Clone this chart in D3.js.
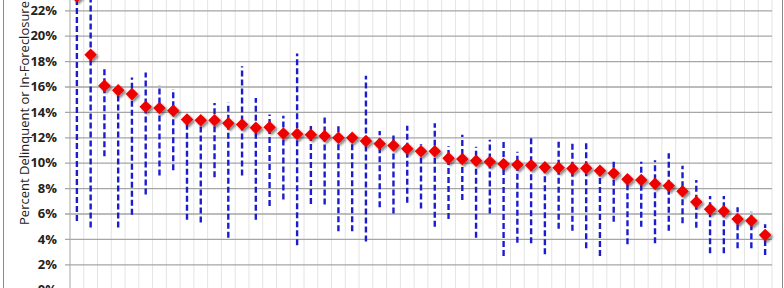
<!DOCTYPE html>
<html>
  <head>
    <meta charset="utf-8">
    <title>Percent delinquent or in-foreclosure</title>
    <style type="text/css">
    body { margin: 0; background: #fff; }
    text { font-family: "Open Sans", "Liberation Sans", sans-serif; fill: #222; }
    </style>
  </head>
  <body>
    <div id="chart"></div>
    <script src="https://cdnjs.cloudflare.com/ajax/libs/d3/7.8.5/d3.min.js"></script>
    <script>

    // one entry per state (50 + DC), sorted by value
    var categories = d3.range(1, 52).map(function(i) { return "S" + i; });

    var values = [23.1, 18.5, 16.06, 15.7, 15.4, 14.4, 14.3, 14.1, 13.4, 13.35,
                  13.35, 13.1, 13.0, 12.75, 12.8, 12.3, 12.26, 12.2, 12.1, 11.97,
                  11.97, 11.7, 11.5, 11.35, 11.1, 10.9, 10.9, 10.35, 10.3, 10.16,
                  10.08, 9.9, 9.84, 9.8, 9.64, 9.6, 9.55, 9.56, 9.37, 9.17,
                  8.7, 8.64, 8.35, 8.19, 7.75, 6.9, 6.33, 6.17, 5.57, 5.43, 4.3];

    var highs = [27.0, 25.0, 17.6, 15.7, 16.7, 17.1, 16.1, 15.8, 13.4, 13.35,
                 14.7, 14.75, 17.6, 15.1, 13.8, 13.7, 18.6, 13.05, 13.6, 13.1,
                 11.97, 16.85, 12.5, 12.3, 12.9, 11.45, 13.1, 11.3, 12.2, 11.26,
                 11.8, 11.85, 10.87, 11.97, 9.64, 11.76, 11.5, 11.65, 9.37, 10.13,
                 8.7, 10.08, 10.2, 10.74, 9.76, 8.64, 7.38, 7.38, 6.49, 6.14, 5.15];

    var lows = [5.4, 4.9, 10.5, 4.9, 5.9, 7.5, 9.0, 9.4, 5.5, 5.3,
                8.85, 4.1, 9.0, 5.5, 6.6, 7.1, 3.5, 6.75, 6.7, 4.6,
                4.6, 3.8, 6.5, 6.0, 6.85, 6.4, 4.96, 5.57, 7.06, 4.1,
                6.0, 2.65, 3.7, 3.65, 2.8, 4.8, 4.65, 3.26, 2.65, 5.35,
                3.57, 4.96, 3.65, 4.65, 5.23, 4.88, 2.87, 2.87, 3.26, 3.26, 2.73];

    var tickValues = [0, 2, 4, 6, 8, 10, 12, 14, 16, 18, 20, 22];

    var data = categories.map(function(c, i) {
      return {cat: c, value: values[i], high: highs[i], low: lows[i]};
    });

    var width = 784,
        height = 288;

    var svg = d3.select("#chart").append("svg")
      .attr("width", width)
      .attr("height", height);

    var defs = svg.append("defs");
    var shadow = defs.append("filter").attr("id", "shadow")
      .attr("x", "-50%").attr("y", "-50%").attr("width", "200%").attr("height", "200%");
    shadow.append("feDropShadow")
      .attr("dx", 2).attr("dy", 2).attr("stdDeviation", 1.3)
      .attr("flood-color", "#000").attr("flood-opacity", 0.45);

    var x = d3.scaleBand().domain(categories).range([70, 772]).padding(0);
    var y = d3.scaleLinear().domain([0, 22]).range([289.7, 10.3]);

    // outer frame
    svg.append("rect")
      .attr("x", 3.5).attr("y", -10)
      .attr("width", 779).attr("height", 320)
      .attr("fill", "#fff").attr("stroke", "#8a8a8a");

    // light vertical lines at category boundaries
    svg.append("g").selectAll("line")
      .data(categories.slice(1).concat(["end"]))
      .enter().append("line")
      .attr("x1", function(d) { return d === "end" ? 772 : x(d); })
      .attr("x2", function(d) { return d === "end" ? 772 : x(d); })
      .attr("y1", 0).attr("y2", height)
      .attr("stroke", "#e4e4e4").attr("stroke-width", 1);

    // horizontal gridlines + axis
    var yAxis = d3.axisLeft(y)
      .tickValues(tickValues)
      .tickSize(-(772 - 65))
      .tickPadding(8)
      .tickFormat(function(d) { return d + "%"; });

    var ga = svg.append("g")
      .attr("transform", "translate(65,0)")
      .call(yAxis);
    ga.select(".domain").remove();
    ga.selectAll(".tick line").attr("stroke", "#a6a6a6").attr("stroke-width", 1.3);
    ga.selectAll(".tick text")
      .attr("font-size", 13).attr("font-weight", "bold").attr("fill", "#222");

    svg.append("line")
      .attr("x1", 70).attr("x2", 70).attr("y1", 0).attr("y2", height)
      .attr("stroke", "#a6a6a6").attr("stroke-width", 1);

    svg.append("text")
      .attr("transform", "translate(24,113) rotate(-90)")
      .attr("text-anchor", "middle")
      .attr("dominant-baseline", "central")
      .attr("font-family", "Lato, 'Open Sans', sans-serif")
      .attr("font-size", 13)
      .text("Percent Delinquent or In-Foreclosure");

    // range lines
    svg.append("g").selectAll("line")
      .data(data)
      .enter().append("line")
      .attr("x1", function(d) { return x(d.cat) + x.bandwidth() / 2; })
      .attr("x2", function(d) { return x(d.cat) + x.bandwidth() / 2; })
      .attr("y1", function(d) { return y(d.low); })
      .attr("y2", function(d) { return y(d.high); })
      .attr("stroke", "#1c1ccf")
      .attr("stroke-width", 2.4)
      .attr("stroke-dasharray", "6,3");

    // diamonds
    var diamond = d3.symbol().type(d3.symbolDiamond2).size(100);
    svg.append("g").selectAll("path")
      .data(data)
      .enter().append("path")
      .attr("d", diamond)
      .attr("transform", function(d) {
        return "translate(" + (x(d.cat) + x.bandwidth() / 2) + "," + y(d.value) + ")";
      })
      .attr("fill", "#ee0000")
      .attr("filter", "url(#shadow)");

    </script>
  </body>
</html>
